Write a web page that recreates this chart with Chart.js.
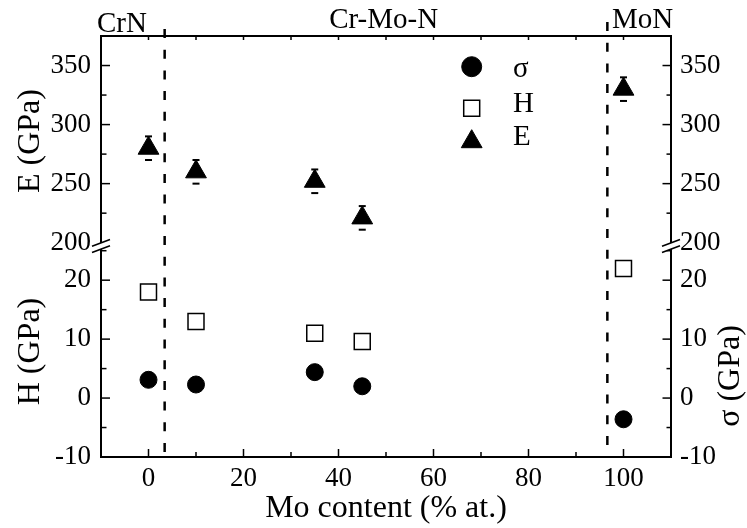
<!DOCTYPE html>
<html>
<head>
<meta charset="utf-8">
<script src="https://cdn.jsdelivr.net/npm/chart.js@4.4.1/dist/chart.umd.min.js"></script>
<style>
  html, body { margin: 0; padding: 0; background: #fff; }
</style>
</head>
<body>
<canvas id="myChart" width="747" height="528"></canvas>
<script>
// Mo content of each film (% at.)
const moContent = [0, 10, 35, 45, 100];
// residual stress sigma (GPa)
const stressVals = [3.1, 2.3, 4.4, 2.0, -3.6];
// hardness H (GPa) and its error
const hardVals = [18.0, 13.0, 11.0, 9.6, 22.0];
const hardErr = [1.1, 1.1, 1.1, 1.1, 1.1];
// Young modulus E (GPa) and its error
const modVals = [280, 260, 252, 221, 330];
const modErr = [10, 10, 10, 10, 10];
// phase regions along the x axis
const phaseNames = ['CrN', 'Cr-Mo-N', 'MoN'];
const phaseBounds = [3.4, 96.6];

const FONT = 'Liberation Serif';
Chart.defaults.font.family = FONT;
Chart.defaults.color = '#000';

const pts = (vals) => moContent.map((x, i) => ({ x: x, y: vals[i] }));
const caps = (vals, errs) => moContent.flatMap((x, i) => [
  { x: x, y: vals[i] + errs[i] },
  { x: x, y: vals[i] - errs[i] }
]);

function axisBorder() {
  return { display: true, color: '#000', width: 2 };
}
function noGrid() {
  return { display: false, drawTicks: false };
}
function yTicks(step, major, pad) {
  return {
    stepSize: step,
    includeBounds: false,
    autoSkip: false,
    padding: pad,
    font: { size: 27 },
    color: '#000',
    callback: v => (v % major === 0 ? v : '')
  };
}

function drawMarker(ctx, style, x, y, r, fill, lw) {
  ctx.beginPath();
  if (style === 'circle') {
    ctx.arc(x, y, r, 0, Math.PI * 2);
  } else if (style === 'rect') {
    const s = r * Math.SQRT1_2;
    ctx.rect(x - s, y - s, 2 * s, 2 * s);
  } else {
    ctx.moveTo(x, y - r);
    ctx.lineTo(x + r * 0.866, y + r * 0.5);
    ctx.lineTo(x - r * 0.866, y + r * 0.5);
    ctx.closePath();
  }
  ctx.fillStyle = fill;
  ctx.fill();
  ctx.lineWidth = lw;
  ctx.strokeStyle = '#000';
  ctx.stroke();
}

// frame decorations: dashed phase limits, inward ticks, axis breaks, legend, labels
const frameDeco = {
  id: 'frameDeco',
  beforeDatasetsDraw(chart) {
    const { ctx, chartArea, scales } = chart;
    const tops = [chartArea.top - 7, chartArea.top - 14];
    ctx.save();
    ctx.strokeStyle = '#000';
    ctx.lineWidth = 2.5;
    ctx.setLineDash([9, 11.7]);
    phaseBounds.forEach((b, i) => {
      const px = scales.x.getPixelForValue(b);
      ctx.beginPath();
      ctx.moveTo(px, tops[i]);
      ctx.lineTo(px, chartArea.bottom);
      ctx.stroke();
    });
    ctx.restore();
  },
  afterDraw(chart) {
    const { ctx, chartArea: ca, scales } = chart;
    ctx.save();
    ctx.strokeStyle = '#000';
    ctx.lineCap = 'butt';

    // top border
    ctx.lineWidth = 2;
    ctx.beginPath();
    ctx.moveTo(ca.left - 1, ca.top);
    ctx.lineTo(ca.right + 1, ca.top);
    ctx.stroke();

    // x ticks, bottom and top
    ctx.lineWidth = 1.5;
    scales.x.ticks.forEach(t => {
      const v = t.value;
      if (v <= scales.x.min || v >= scales.x.max) return;
      const px = scales.x.getPixelForValue(v);
      const len = v % 20 === 0 ? 8 : 5;
      ctx.beginPath();
      ctx.moveTo(px, ca.bottom);
      ctx.lineTo(px, ca.bottom - len);
      ctx.moveTo(px, ca.top);
      ctx.lineTo(px, ca.top + 4);
      ctx.stroke();
    });

    // y ticks, pointing into the plot
    const yTickSets = [
      { s: scales.ye, x: ca.left, dir: 1, major: 50, big: 9, small: 5.5 },
      { s: scales.yh, x: ca.left, dir: 1, major: 10, big: 9, small: 5.5 },
      { s: scales.ye2, x: ca.right, dir: -1, major: 50, big: 8.5, small: 4.5 },
      { s: scales.ys, x: ca.right, dir: -1, major: 10, big: 8.5, small: 4.5 }
    ];
    yTickSets.forEach(a => {
      a.s.ticks.forEach(t => {
        const py = a.s.getPixelForValue(t.value);
        if (py < a.s.top + 3 || py > a.s.bottom - 5) return;
        const len = t.value % a.major === 0 ? a.big : a.small;
        ctx.beginPath();
        ctx.moveTo(a.x, py);
        ctx.lineTo(a.x + a.dir * len, py);
        ctx.stroke();
      });
    });

    // axis breaks where the E and H/sigma scales meet
    const by = scales.yh.top;
    [ca.left, ca.right].forEach(ax => {
      ctx.fillStyle = '#fff';
      ctx.beginPath();
      ctx.moveTo(ax - 9, by + 0.3);
      ctx.lineTo(ax + 9, by - 6.5);
      ctx.lineTo(ax + 9, by - 0.2);
      ctx.lineTo(ax - 9, by + 6.6);
      ctx.closePath();
      ctx.fill();
      ctx.lineWidth = 1.6;
      ctx.beginPath();
      ctx.moveTo(ax - 9, by + 0.3);
      ctx.lineTo(ax + 9, by - 6.5);
      ctx.moveTo(ax - 9, by + 6.6);
      ctx.lineTo(ax + 9, by - 0.2);
      ctx.stroke();
    });

    // legend
    const ds = chart.data.datasets;
    const lx = 471.7;
    const rows = [66.7, 108.3, 141.7];
    const base = [76.7, 111.7, 145];
    ctx.font = '29px "' + FONT + '"';
    ctx.textAlign = 'left';
    ctx.textBaseline = 'alphabetic';
    for (let i = 0; i < 3; i++) {
      const d = ds[i];
      const r = d.pointStyle === 'circle' ? 10 : d.pointRadius;
      drawMarker(ctx, d.pointStyle, lx, rows[i], r, d.pointBackgroundColor, d.pointBorderWidth);
      ctx.fillStyle = '#000';
      ctx.fillText(d.label, 513, base[i]);
    }

    // phase names above the frame
    const phaseAt = [-5.6, 49.5, 104];
    const phaseBase = [31.7, 28, 28];
    ctx.textAlign = 'center';
    ctx.font = '29px "' + FONT + '"';
    phaseNames.forEach((n, i) => {
      ctx.fillText(n, scales.x.getPixelForValue(phaseAt[i]), phaseBase[i]);
    });

    // right-hand title, reading upwards
    ctx.font = '32px "' + FONT + '"';
    ctx.textBaseline = 'middle';
    ctx.translate(731, 376);
    ctx.rotate(-Math.PI / 2);
    ctx.fillText('σ (GPa)', 0, 0);
    ctx.restore();
  }
};

const ctx = document.getElementById('myChart').getContext('2d');

new Chart(ctx, {
  type: 'scatter',
  data: {
    datasets: [{
      label: 'σ',
      data: pts(stressVals),
      yAxisID: 'ys',
      pointStyle: 'circle',
      pointRadius: 8.5,
      pointBackgroundColor: '#000',
      pointBorderColor: '#000',
      pointBorderWidth: 1
    }, {
      label: 'H',
      data: pts(hardVals),
      yAxisID: 'yh',
      pointStyle: 'rect',
      pointRadius: 11.3,
      pointBackgroundColor: '#fff',
      pointBorderColor: '#000',
      pointBorderWidth: 1.5
    }, {
      label: 'E',
      data: pts(modVals),
      yAxisID: 'ye',
      pointStyle: 'triangle',
      pointRadius: 12,
      pointBackgroundColor: '#000',
      pointBorderColor: '#000',
      pointBorderWidth: 1
    }, {
      label: 'H err',
      data: caps(hardVals, hardErr),
      yAxisID: 'yh',
      pointStyle: 'line',
      pointRadius: 3.5,
      pointBorderColor: '#000',
      pointBorderWidth: 2
    }, {
      label: 'E err',
      data: caps(modVals, modErr),
      yAxisID: 'ye',
      pointStyle: 'line',
      pointRadius: 3.5,
      pointBorderColor: '#000',
      pointBorderWidth: 2
    }]
  },
  options: {
    responsive: false,
    animation: false,
    layout: { padding: { top: 36 } },
    plugins: {
      legend: { display: false },
      tooltip: { enabled: false }
    },
    scales: {
      x: {
        type: 'linear',
        position: 'bottom',
        min: -10,
        max: 110,
        grid: noGrid(),
        border: axisBorder(),
        ticks: {
          stepSize: 10,
          autoSkip: false,
          maxRotation: 0,
          padding: 6,
          font: { size: 27 },
          color: '#000',
          callback: v => (v % 20 === 0 ? v : '')
        },
        title: {
          display: true,
          text: 'Mo content (% at.)',
          font: { size: 32 },
          color: '#000',
          padding: { top: 0, bottom: 0 }
        },
        afterFit: s => { s.height = 71; }
      },
      yh: {
        type: 'linear',
        position: 'left',
        stack: 'left',
        stackWeight: 211,
        min: -10,
        max: 25.8,
        grid: noGrid(),
        border: axisBorder(),
        ticks: yTicks(5, 10, 10),
        title: {
          display: true,
          text: 'H (GPa)',
          font: { size: 32 },
          color: '#000',
          padding: { top: 11, bottom: 0 }
        },
        afterFit: s => { s.width = 101; }
      },
      ye: {
        type: 'linear',
        position: 'left',
        stack: 'left',
        stackWeight: 210,
        min: 197.2,
        max: 375,
        grid: noGrid(),
        border: axisBorder(),
        ticks: yTicks(25, 50, 10),
        title: {
          display: true,
          text: 'E (GPa)',
          font: { size: 32 },
          color: '#000',
          padding: { top: 11, bottom: 0 }
        },
        afterFit: s => { s.width = 101; }
      },
      ye2: {
        type: 'linear',
        position: 'right',
        stack: 'right',
        stackWeight: 210,
        min: 197.2,
        max: 375,
        grid: noGrid(),
        border: axisBorder(),
        ticks: yTicks(25, 50, 9),
        afterFit: s => { s.width = 76; }
      },
      ys: {
        type: 'linear',
        position: 'right',
        stack: 'right',
        stackWeight: 211,
        min: -10,
        max: 25.8,
        grid: noGrid(),
        border: axisBorder(),
        ticks: yTicks(5, 10, 9),
        afterFit: s => { s.width = 76; }
      }
    }
  },
  plugins: [frameDeco]
});
</script>
</body>
</html>
